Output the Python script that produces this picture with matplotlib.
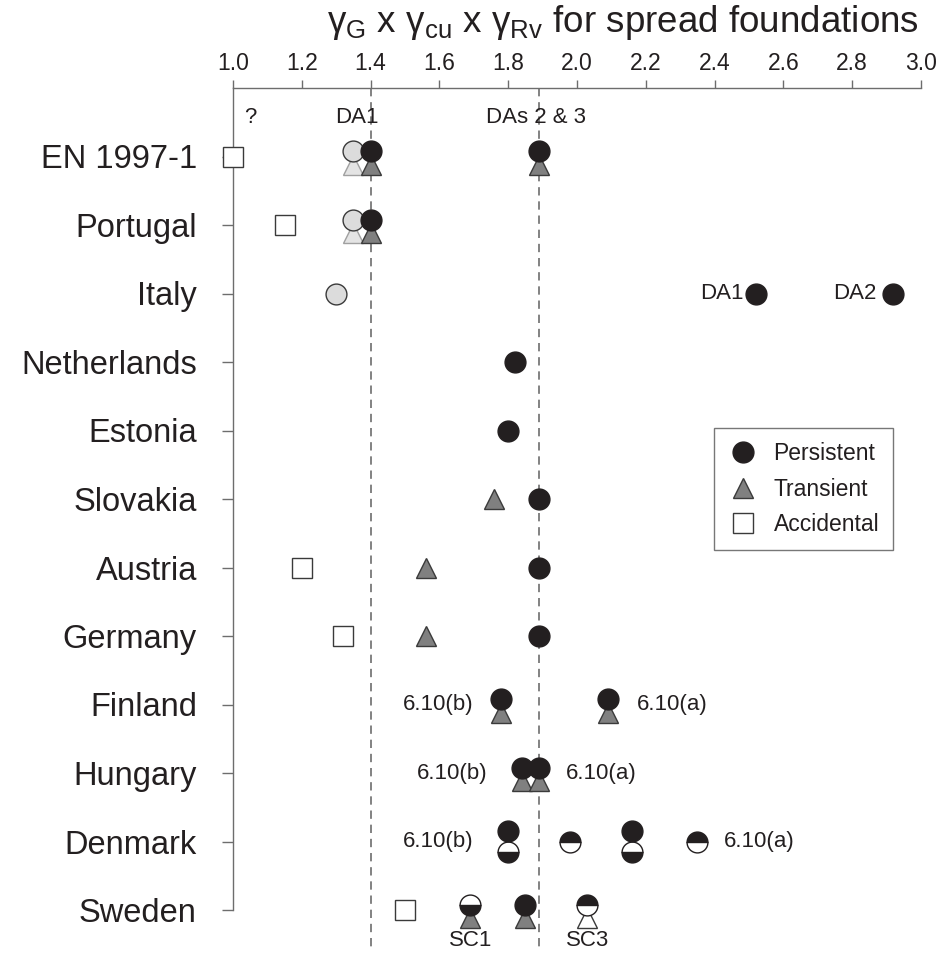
import matplotlib.pyplot as plt
from matplotlib.lines import Line2D

plt.rcParams['font.family'] = ['Liberation Sans', 'DejaVu Sans']
plt.rcParams['mathtext.fontset'] = 'custom'
plt.rcParams['mathtext.rm'] = 'Liberation Sans'

countries = ['EN 1997-1', 'Portugal', 'Italy', 'Netherlands', 'Estonia', 'Slovakia',
             'Austria', 'Germany', 'Finland', 'Hungary', 'Denmark', 'Sweden']

# persistent situations (black circles)
persistent_row = [0, 0, 1, 2, 2, 3, 4, 5, 6, 7, 8, 8, 9, 9, 10, 10, 11]
persistent_val = [1.40, 1.89, 1.40, 2.52, 2.92, 1.82, 1.80, 1.89, 1.89, 1.89,
                  1.78, 2.09, 1.84, 1.89, 1.80, 2.16, 1.85]

# transient situations (grey triangles)
transient_row = [0, 0, 1, 5, 6, 7, 8, 8, 9, 9, 11, 11]
transient_val = [1.40, 1.89, 1.40, 1.76, 1.56, 1.56, 1.78, 2.09, 1.84, 1.89, 1.69, 1.85]

# accidental situations (open squares)
accidental_row = [0, 1, 6, 7, 11]
accidental_val = [1.00, 1.15, 1.20, 1.32, 1.50]

# uncertain values (light grey)
unsure_circle_row = [0, 1, 2]
unsure_circle_val = [1.35, 1.35, 1.30]
unsure_tri_row = [0, 1]
unsure_tri_val = [1.35, 1.35]

# half filled circles, 'top' = upper half black, 'bottom' = lower half black
half_row = [10, 10, 10, 10, 11, 11]
half_val = [1.80, 2.16, 1.98, 2.35, 1.69, 2.03]
half_dark = ['bottom', 'bottom', 'top', 'top', 'bottom', 'top']

# open triangles
open_tri_row = [11]
open_tri_val = [2.03]

da_lines = [1.40, 1.89]

INK = '#231f20'
GREY = '#6d6d6d'
EDGE = '#3a3a3a'
MS = 15


def has(row, val, rows, vals):
    return any(r == row and abs(v - val) < 1e-9 for r, v in zip(rows, vals))


def mark(ax, x, y, **kw):
    ax.plot(x, y, ls='none', ms=MS, mew=1, clip_on=False, **kw)


fig = plt.figure(figsize=(9.38, 9.57), dpi=100)
ax = fig.add_axes([233 / 938, 1 - 910 / 957, (921 - 233) / 938, (910 - 88) / 957])
ax.set_xlim(1.0, 3.0)
ax.set_ylim(len(countries) - 1, -1)

for x in da_lines:
    ax.plot([x, x], [-1, len(countries) - 0.42], color=GREY, lw=1.2,
            dashes=(5, 3.5), clip_on=False, zorder=1)

# light grey markers
for r, v in zip(unsure_tri_row, unsure_tri_val):
    dy = 0.12 if has(r, v, unsure_circle_row, unsure_circle_val) else 0
    mark(ax, v, r + dy, marker='^', mfc='#e4e4e4', mec='#a0a0a0', zorder=3)
for r, v in zip(unsure_circle_row, unsure_circle_val):
    dy = -0.08 if has(r, v, unsure_tri_row, unsure_tri_val) else 0
    mark(ax, v, r + dy, marker='o', mfc='#dcdcdc', mec=EDGE, zorder=3)

# accidental
for r, v in zip(accidental_row, accidental_val):
    mark(ax, v, r, marker='s', mfc='white', mec=EDGE, zorder=4)

# triangles
circ_rows = persistent_row + half_row
circ_vals = persistent_val + half_val
for r, v in zip(transient_row, transient_val):
    dy = 0.12 if has(r, v, circ_rows, circ_vals) else 0
    mark(ax, v, r + dy, marker='^', mfc='#808080', mec=EDGE, zorder=4)
for r, v in zip(open_tri_row, open_tri_val):
    dy = 0.12 if has(r, v, circ_rows, circ_vals) else 0
    mark(ax, v, r + dy, marker='^', mfc='white', mec=EDGE, zorder=4)

tri_rows = transient_row + open_tri_row
tri_vals = transient_val + open_tri_val

# half circles
for r, v, d in zip(half_row, half_val, half_dark):
    if has(r, v, persistent_row, persistent_val):
        dy = 0.16
    elif has(r, v, tri_rows, tri_vals):
        dy = -0.08
    else:
        dy = 0
    mark(ax, v, r + dy, marker='o', fillstyle=d, mfc=INK, mfcalt='white',
         mec=INK, zorder=5)

# persistent
for r, v in zip(persistent_row, persistent_val):
    if has(r, v, half_row, half_val):
        dy = -0.15
    elif has(r, v, tri_rows, tri_vals):
        dy = -0.08
    else:
        dy = 0
    mark(ax, v, r + dy, marker='o', mfc=INK, mec=INK, zorder=6)

# labels next to the marks
txt = dict(fontsize=16, color=INK, va='center')
ax.annotate('DA1', (2.52, 2), xytext=(-9, 0), textcoords='offset points', ha='right', **txt)
ax.annotate('DA2', (2.92, 2), xytext=(-12, 0), textcoords='offset points', ha='right', **txt)
ax.annotate('6.10(b)', (1.78, 8), xytext=(-20, 0), textcoords='offset points', ha='right', **txt)
ax.annotate('6.10(a)', (2.09, 8), xytext=(21, 0), textcoords='offset points', ha='left', **txt)
ax.annotate('6.10(b)', (1.84, 9), xytext=(-25, 0), textcoords='offset points', ha='right', **txt)
ax.annotate('6.10(a)', (1.89, 9), xytext=(19, 0), textcoords='offset points', ha='left', **txt)
ax.annotate('6.10(b)', (1.80, 10), xytext=(-25, 0), textcoords='offset points', ha='right', **txt)
ax.annotate('6.10(a)', (2.35, 10), xytext=(19, 0), textcoords='offset points', ha='left', **txt)
ax.annotate('SC1', (1.69, 11), xytext=(0, -22), textcoords='offset points', ha='center',
            annotation_clip=False, **txt)
ax.annotate('SC3', (2.03, 11), xytext=(0, -22), textcoords='offset points', ha='center',
            annotation_clip=False, **txt)
ax.text(1.05, -0.57, '?', ha='center', **txt)
ax.text(1.36, -0.57, 'DA1', ha='center', **txt)
ax.text(1.88, -0.57, 'DAs 2 & 3', ha='center', **txt)

# axes styling
for s in ['right', 'bottom']:
    ax.spines[s].set_visible(False)
for s in ['top', 'left']:
    ax.spines[s].set_color(GREY)
    ax.spines[s].set_linewidth(1.0)

ax.xaxis.tick_top()
ax.set_xticks([1.0 + 0.2 * i for i in range(11)])
ax.set_xticklabels([f'{1.0 + 0.2 * i:.1f}' for i in range(11)])
ax.tick_params(axis='x', length=6, width=1, color=GREY, labelsize=16.5,
               labelcolor=INK, pad=3)
ax.set_yticks(range(len(countries)))
ax.set_yticklabels(countries)
ax.tick_params(axis='y', length=8, width=1, color=GREY, labelsize=23.5,
               labelcolor=INK, pad=18)

fig.text(623 / 938, 1 - 22 / 957,
         r'$\mathregular{\gamma_G}$ x $\mathregular{\gamma_{cu}}$ x '
         r'$\mathregular{\gamma_{Rv}}$ for spread foundations',
         ha='center', va='center', fontsize=26.5, color=INK)

handles = [
    Line2D([], [], marker='o', ls='none', ms=MS, mfc=INK, mec=INK),
    Line2D([], [], marker='^', ls='none', ms=MS, mfc='#808080', mec=EDGE),
    Line2D([], [], marker='s', ls='none', ms=MS, mfc='white', mec=EDGE),
]
leg = ax.legend(handles, ['Persistent', 'Transient', 'Accidental'],
                loc='upper left', bbox_to_anchor=(0.699, 0.586), fontsize=16.5,
                frameon=True, fancybox=False, edgecolor='#555555',
                handletextpad=0.7, labelspacing=0.55, borderpad=0.6,
                borderaxespad=0, handlelength=1.3)
leg.get_frame().set_linewidth(1.0)
for t in leg.get_texts():
    t.set_color(INK)

fig.savefig('out.png', dpi=100)
